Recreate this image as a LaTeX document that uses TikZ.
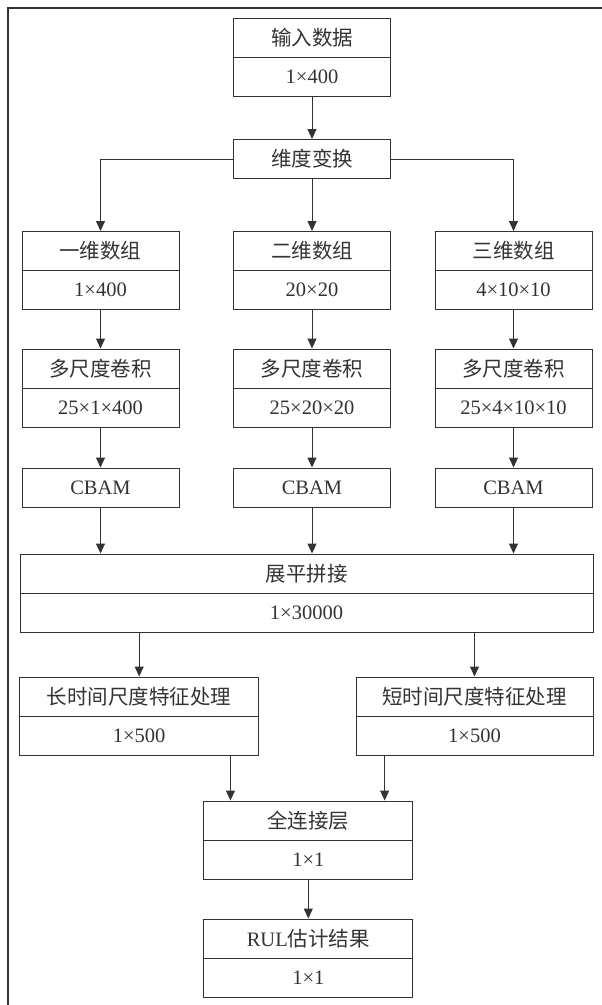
\documentclass[tikz,border=0pt]{standalone}
\usepackage{fontspec}
\setmainfont{Liberation Serif}
\newfontfamily\cjk{Noto Sans CJK SC}
\usetikzlibrary{arrows.meta}
\definecolor{linegray}{gray}{0.2}
\definecolor{textgray}{gray}{0.2}
\tikzset{
  cell/.style={draw=linegray, line width=1pt, minimum width=#1, minimum height=39pt,
    inner sep=0pt, text=textgray, font=\fontsize{20.5}{24}\selectfont},
  cell/.default=157pt,
  arr/.style={draw=linegray, line width=1pt, -{Triangle[length=10pt,width=9pt]}},
  frameline/.style={draw=linegray, line width=1.2pt}
}
\begin{document}
\begin{tikzpicture}[x=1pt,y=-1pt]
\useasboundingbox (0,0) rectangle (602,1005);
% frame
\coordinate (fbl) at (8,1005);
\coordinate (ftl) at (8,8);
\coordinate (ftr) at (602,8);
\draw[frameline] (fbl) -- (ftl) -- (ftr);

% input
\node[cell] (in1) at (312,37.5) {\cjk 输入数据};
\node[cell] (in2) at (312,76.5) {1×400};
\node[cell] (dim) at (312,159) {\cjk 维度变换};

% three branches
\node[cell] (a1) at (100.5,251) {\cjk 一维数组};
\node[cell] (a2) at (100.5,290) {1×400};
\node[cell] (b1) at (312,251) {\cjk 二维数组};
\node[cell] (b2) at (312,290) {20×20};
\node[cell] (c1) at (513.5,251) {\cjk 三维数组};
\node[cell] (c2) at (513.5,290) {4×10×10};

\node[cell] (a3) at (100.5,368.5) {\cjk 多尺度卷积};
\node[cell] (a4) at (100.5,407.5) {25×1×400};
\node[cell] (b3) at (312,368.5) {\cjk 多尺度卷积};
\node[cell] (b4) at (312,407.5) {25×20×20};
\node[cell] (c3) at (513.5,368.5) {\cjk 多尺度卷积};
\node[cell] (c4) at (513.5,407.5) {25×4×10×10};

\node[cell] (a5) at (100.5,487.5) {CBAM};
\node[cell] (b5) at (312,487.5) {CBAM};
\node[cell] (c5) at (513.5,487.5) {CBAM};

% flatten
\node[cell=573pt] (f1) at (306.5,573.5) {\cjk 展平拼接};
\node[cell=573pt] (f2) at (306.5,612.5) {1×30000};

% long / short
\node[cell=238.5pt] (l1) at (139.2,696.5) {\cjk 长时间尺度特征处理};
\node[cell=238.5pt] (l2) at (139.2,735.5) {1×500};
\node[cell=237pt] (s1) at (474.5,696.5) {\cjk 短时间尺度特征处理};
\node[cell=237pt] (s2) at (474.5,735.5) {1×500};

% fully connected
\node[cell=208.7pt] (fc1) at (308.3,820.5) {\cjk 全连接层};
\node[cell=208.7pt] (fc2) at (308.3,860) {1×1};
\node[cell=208.7pt] (r1) at (308.3,938.5) {RUL{\cjk 估计结果}};
\node[cell=208.7pt] (r2) at (308.3,978) {1×1};

% connectors
\draw[arr] (in2.south) -- (dim.north);
\draw[arr] (dim.west) -| (a1.north);
\draw[arr] (dim.south) -- (b1.north);
\draw[arr] (dim.east) -| (c1.north);

\draw[arr] (a2.south) -- (a3.north);
\draw[arr] (b2.south) -- (b3.north);
\draw[arr] (c2.south) -- (c3.north);

\draw[arr] (a4.south) -- (a5.north);
\draw[arr] (b4.south) -- (b5.north);
\draw[arr] (c4.south) -- (c5.north);

\draw[arr] (a5.south) -- (a5.south |- f1.north);
\draw[arr] (b5.south) -- (b5.south |- f1.north);
\draw[arr] (c5.south) -- (c5.south |- f1.north);

\draw[arr] (l1.north |- f2.south) -- (l1.north);
\draw[arr] (s1.north |- f2.south) -- (s1.north);

\draw[arr] ([xshift=27pt]fc1.north west |- l2.south) -- ([xshift=27pt]fc1.north west);
\draw[arr] ([xshift=-28.5pt]fc1.north east |- s2.south) -- ([xshift=-28.5pt]fc1.north east);

\draw[arr] (fc2.south) -- (r1.north);
\end{tikzpicture}
\end{document}
